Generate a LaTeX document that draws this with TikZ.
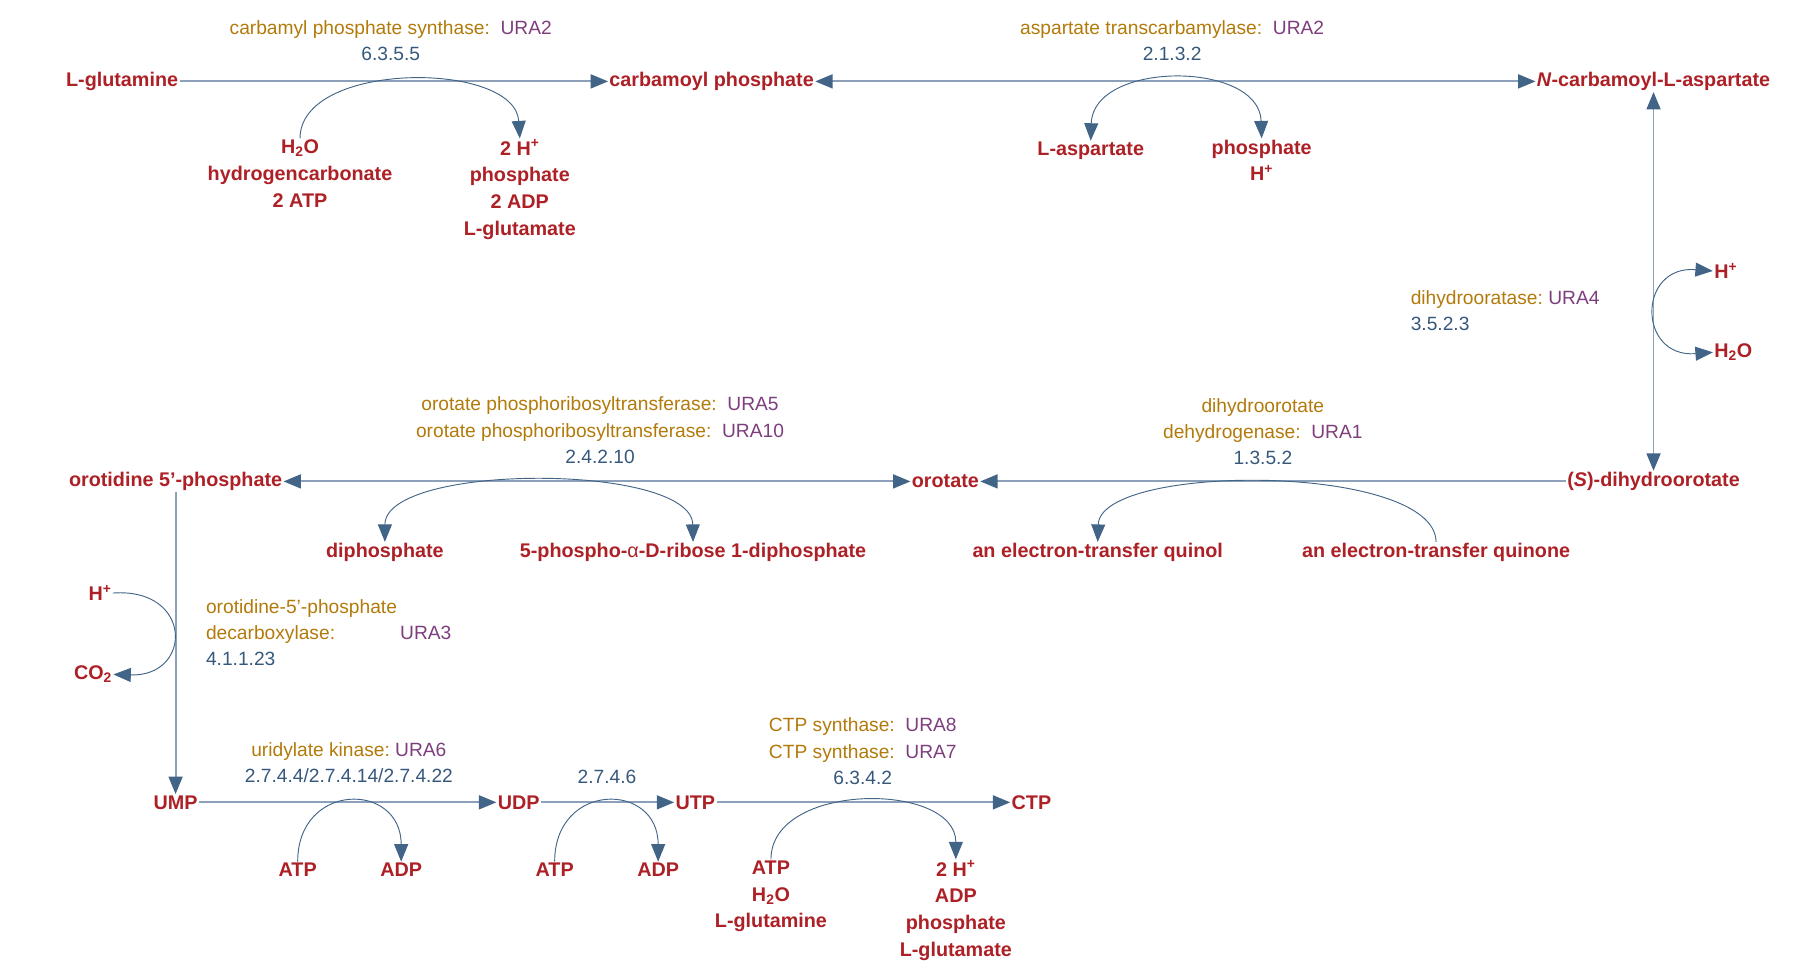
\documentclass[tikz,border=0pt]{standalone}
\usepackage{fontspec}
\setmainfont{Liberation Sans}
\usetikzlibrary{arrows.meta}
\definecolor{cred}{RGB}{172,32,38}
\definecolor{cenz}{RGB}{178,122,10}
\definecolor{cgene}{RGB}{125,62,125}
\definecolor{cec}{RGB}{55,88,125}
\definecolor{cline}{RGB}{140,160,185}
\definecolor{carr}{RGB}{65,100,135}
\newcommand{\enz}[1]{\textcolor{cenz}{#1}}
\newcommand{\gene}[1]{\textcolor{cgene}{#1}}
\newcommand{\ec}[1]{\textcolor{cec}{#1}}
\begin{document}
\begin{tikzpicture}[x=1pt,y=-1pt,
 cpd/.style={text=cred,font=\fontsize{17}{23}\selectfont\bfseries,inner sep=1pt,align=center},
 lab/.style={font=\fontsize{16.5}{22.5}\selectfont,inner sep=0pt,align=center},
 main/.style={draw=cline,line width=1.6pt,-{Triangle[length=15pt,width=12pt,fill=carr,color=carr]}},
 dmain/.style={draw=cline,line width=1.6pt,{Triangle[length=15pt,width=12pt,fill=carr,color=carr]}-{Triangle[length=15pt,width=12pt,fill=carr,color=carr]}},
 side/.style={draw=carr,line width=0.8pt},
 sarr/.style={side,-{Triangle[length=15pt,width=12pt,fill=carr,color=carr]}},
 dsarr/.style={side,{Triangle[length=15pt,width=12pt,fill=carr,color=carr]}-{Triangle[length=15pt,width=12pt,fill=carr,color=carr]}}]
\useasboundingbox (0,0) rectangle (1560,832);
% compounds
\node[cpd] (glut) at (105,70) {L-glutamine};
\node[cpd] (cp) at (612,70) {carbamoyl phosphate};
\node[cpd] (nca) at (1422,70) {\textit{N}-carbamoyl-L-aspartate};
\node[cpd] (dho) at (1422,414) {(\textit{S})-dihydroorotate};
\node[cpd] (oro) at (813,414) {orotate};
\node[cpd] (o5p) at (151,414) {orotidine 5'-phosphate};
\node[cpd] (ump) at (151,690) {UMP};
\node[cpd] (udp) at (446,690) {UDP};
\node[cpd] (utp) at (598,690) {UTP};
\node[cpd] (ctp) at (887,690) {CTP};
% side compounds
\node[cpd,anchor=north] (s1a) at (258,119) {H\textsubscript{2}O\\hydrogencarbonate\\2 ATP};
\node[cpd,anchor=north] (s1b) at (447,119) {2 H\textsuperscript{+}\\phosphate\\2 ADP\\L-glutamate};
\node[cpd,anchor=north] (s2a) at (938,121) {L-aspartate};
\node[cpd,anchor=north] (s2b) at (1085,119) {phosphate\\H\textsuperscript{+}};
\node[cpd,anchor=west] (s3a) at (1473,233) {H\textsuperscript{+}};
\node[cpd,anchor=west] (s3b) at (1473,303) {H\textsubscript{2}O};
\node[cpd,anchor=north] (s4a) at (944,466) {an electron-transfer quinol};
\node[cpd,anchor=north] (s4b) at (1235,466) {an electron-transfer quinone};
\node[cpd,anchor=north] (s5a) at (331,466) {diphosphate};
\node[cpd,anchor=north] (s5b) at (596,466) {5-phospho-\textmd{α}-D-ribose 1-diphosphate};
\node[cpd] (s6a) at (86,510) {H\textsuperscript{+}};
\node[cpd] (s6b) at (80,580) {CO\textsubscript{2}};
\node[cpd,anchor=north] (s7a) at (256,741) {ATP};
\node[cpd,anchor=north] (s7b) at (345,741) {ADP};
\node[cpd,anchor=north] (s8a) at (477,741) {ATP};
\node[cpd,anchor=north] (s8b) at (566,741) {ADP};
\node[cpd,anchor=north] (s9a) at (663,739) {ATP\\H\textsubscript{2}O\\L-glutamine};
\node[cpd,anchor=north] (s9b) at (822,739) {2 H\textsuperscript{+}\\ADP\\phosphate\\L-glutamate};
% enzyme labels
\node[lab] (e1) at (336,35) {\enz{carbamyl phosphate synthase:}\ \ \gene{URA2}\\\ec{6.3.5.5}};
\node[lab] (e2) at (1008,35) {\enz{aspartate transcarbamylase:}\ \ \gene{URA2}\\\ec{2.1.3.2}};
\node[lab,align=left,anchor=west] (e3) at (1213,267) {\enz{dihydrooratase:}\ \gene{URA4}\\\ec{3.5.2.3}};
\node[lab] (e4) at (1086,371) {\enz{dihydroorotate}\\\enz{dehydrogenase:}\ \ \gene{URA1}\\\ec{1.3.5.2}};
\node[lab] (e5) at (516,370) {\enz{orotate phosphoribosyltransferase:}\ \ \gene{URA5}\\\enz{orotate phosphoribosyltransferase:}\ \ \gene{URA10}\\\ec{2.4.2.10}};
\node[lab,align=left,anchor=west] (e6) at (177,544) {\enz{orotidine-5'-phosphate}\\\enz{decarboxylase:}\hspace{56pt}\gene{URA3}\\\ec{4.1.1.23}};
\node[lab] (e7) at (300,656) {\enz{uridylate kinase:}\ \gene{URA6}\\\ec{2.7.4.4/2.7.4.14/2.7.4.22}};
\node[lab] (e8) at (522,668) {\ec{2.7.4.6}};
\node[lab] (e9) at (742,646) {\enz{CTP synthase:}\ \ \gene{URA8}\\\enz{CTP synthase:}\ \ \gene{URA7}\\\ec{6.3.4.2}};
% main connectors
\draw[main] (glut.east) -- (glut.east -| cp.west);
\draw[dmain] (cp) -- (nca);
\draw[dmain] (nca) -- (dho);
\draw[main] (dho) -- (oro);
\draw[dmain] (oro) -- (o5p);
\draw[main] (o5p) -- (ump);
\draw[main] (ump) -- (udp);
\draw[main] (udp) -- (utp);
\draw[main] (utp) -- (ctp);
% side arcs
\draw[sarr] (s1a.north) .. controls (258,52) and (443,52) .. (s1b.north);
\draw[dsarr] (s2a.north) .. controls (940,52) and (1083,52) .. (s2b.north);
\draw[dsarr] (s3a.west) .. controls (1408,228) and (1408,308) .. (s3b.west);
\draw[sarr] (s4b.north) .. controls (1234,398) and (946,398) .. (s4a.north);
\draw[dsarr] (s5a.north) .. controls (331,398) and (595,398) .. (s5b.north);
\draw[sarr] (s6a.east) .. controls (166,505) and (166,582) .. (s6b.east);
\draw[sarr] (s7a.north) .. controls (256,672) and (345,672) .. (s7b.north);
\draw[sarr] (s8a.north) .. controls (477,672) and (566,672) .. (s8b.north);
\draw[sarr] (s9a.north) .. controls (663,672) and (822,672) .. (s9b.north);
\end{tikzpicture}
\end{document}
